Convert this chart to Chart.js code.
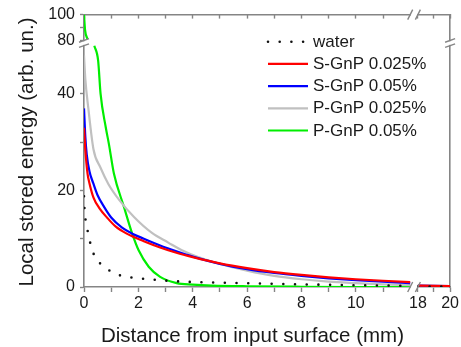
<!DOCTYPE html>
<html lang="en">
<head>
<meta charset="UTF-8" />
<title>Local stored energy vs distance</title>
<script src="https://cdn.jsdelivr.net/npm/chart.js"></script>
<style>
  html, body { margin: 0; padding: 0; background: #fff; }
</style>
</head>
<body>
<canvas id="energyChart" width="461" height="347"></canvas>
<script>
  // distance from input surface (mm) and local stored energy
  // null entries split the curves where the axes are broken
  const waterX = [0, 0.02, 0.06, 0.15, 0.24, 0.39, 0.75, 1.18, 1.59, 2.03, 2.84, 3.5, 5, 7.6, 9, 11, 12, 15, 18, 20];
  const waterY = [18.8, 15.9, 13.8, 11.2, 8.9, 6.4, 4.2, 2.7, 2.1, 1.8, 1.4, 1.15, 0.9, 0.6, 0.45, 0.3, 0.25, null, 0.1, 0.1];

  const sGnp025X = [0, 0.05, 0.13, 0.2, 0.35, 0.57, 0.86, 1.17, 1.59, 2.2, 2.8, 3.4, 4, 5, 6, 7, 8, 9, 10, 11, 12, 15, 18, 20];
  const sGnp025Y = [33, 28.3, 23.5, 21.5, 18.5, 16.3, 14.3, 12.5, 11, 9.5, 8.2, 7.1, 6.2, 4.9, 3.9, 3.1, 2.5, 2.0, 1.6, 1.3, 1.0, null, 0.3, 0.2];

  const sGnp05X = [0, 0.05, 0.1, 0.2, 0.34, 0.5, 0.75, 1.0, 1.4, 1.8, 2.2, 2.8, 3.4, 4, 5, 6, 7, 8, 9, 10, 11, 12, 15, 18, 20];
  const sGnp05Y = [37, 31, 27.5, 24, 21.5, 19, 16.5, 14.4, 12.3, 11, 10, 8.6, 7.4, 6.3, 4.8, 3.7, 2.9, 2.3, 1.8, 1.4, 1.1, 0.8, null, 0.3, 0.2];

  const pGnp025X = [0, 0.05, 0.16, 0.35, 0.6, 0.9, 1.3, 1.84, 2.5, 3.1, 3.6, 4.2, 5, 6, 7, 8, 9, 10, 11, 12, 15, 18, 20];
  const pGnp025Y = [48, 43, 37, 28.5, 24.8, 21.3, 18, 14.5, 11.2, 9.2, 7.6, 6.2, 4.8, 3.4, 2.3, 1.6, 1.1, 0.8, 0.55, 0.4, null, 0.1, 0.1];

  const pGnp05X = [0, 0.04, 0.13, 0.25, 0.38, 0.52, 0.61, 0.8, 0.92, 1.1, 1.47, 1.77, 2.01, 2.38, 2.8, 3.41, 4, 4.7, 6, 8, 10, 12, 15, 18, 20];
  const pGnp05Y = [100, 88, 81, null, 50, 46.9, 40, 33.1, 29.5, 23.5, 16.6, 11.1, 7.6, 4.2, 2.1, 0.8, 0.5, 0.3, 0.15, 0.05, 0, 0, null, 0, 0];

  const seriesLabels = ['water', 'S-GnP 0.025%', 'S-GnP 0.05%', 'P-GnP 0.025%', 'P-GnP 0.05%'];

  // ticks
  const xTicks = [0, 1, 2, 3, 4, 5, 6, 7, 8, 9, 10, 11, 18, 19, 20];
  const xLabels = [0, 2, 4, 6, 8, 10, 18, 20];
  const yTicks = [0, 10, 20, 30, 40, 80, 90, 100];
  const yLabels = [0, 20, 40, 80, 100];

  // broken axes: [from, to, startDecimal, endDecimal]
  const xSegments = [[0, 12, 0, 0.891], [18, 20, 0.912, 1]];
  const ySegments = [[0, 50, 0, 0.886], [80, 100, 0.905, 1]];
  const SEGMENTS = { x: xSegments, xTop: xSegments, y: ySegments, yRight: ySegments };

  const FONT = "'Liberation Sans', Arial, sans-serif";
  const AXIS_COLOR = '#858585';
  const TEXT_COLOR = '#1a1a1a';

  function toDecimal(v, segs) {
    let prev = null;
    for (const s of segs) {
      const [a, b, d0, d1] = s;
      if (v <= b) {
        if (v >= a || !prev) return d0 + (v - a) / (b - a) * (d1 - d0);
        return prev[3] + (v - prev[1]) / (a - prev[1]) * (d0 - prev[3]);
      }
      prev = s;
    }
    const [a, b, d0, d1] = segs[segs.length - 1];
    return d0 + (v - a) / (b - a) * (d1 - d0);
  }

  function fromDecimal(d, segs) {
    for (const [a, b, d0, d1] of segs) {
      if (d <= d1) return a + (d - d0) / (d1 - d0) * (b - a);
    }
    const [a, b, d0, d1] = segs[segs.length - 1];
    return a + (d - d0) / (d1 - d0) * (b - a);
  }

  class BrokenScale extends Chart.LinearScale {
    static id = 'broken';
    static defaults = Chart.LinearScale.defaults;
    getPixelForValue(value) {
      if (value === null || value === undefined || Number.isNaN(value)) return NaN;
      return this.getPixelForDecimal(toDecimal(value, SEGMENTS[this.id]));
    }
    getValueForPixel(pixel) {
      return fromDecimal(this.getDecimalForPixel(pixel), SEGMENTS[this.id]);
    }
  }
  Chart.register(BrokenScale);

  const points = (xs, ys) => xs.map((x, i) => ({ x: x, y: ys[i] }));

  function slash(ctx, x1, y1, x2, y2) {
    ctx.beginPath();
    ctx.moveTo(x1, y1);
    ctx.lineTo(x2, y2);
    ctx.stroke();
  }

  // break marks, legend and axis titles
  const extras = {
    id: 'extras',
    afterDraw(chart) {
      const ctx = chart.ctx;
      const area = chart.chartArea;
      const xs = chart.scales.x, ys = chart.scales.y;
      ctx.save();

      const yLo = ys.getPixelForValue(ySegments[0][1]);
      const yHi = ys.getPixelForValue(ySegments[1][0]);
      const xLo = xs.getPixelForValue(xSegments[0][1]);
      const xHi = xs.getPixelForValue(xSegments[1][0]);

      ctx.fillStyle = '#fff';
      [area.left, area.right].forEach(ax => ctx.fillRect(ax - 2, yHi + 0.8, 4, yLo - yHi - 1.6));
      [area.top, area.bottom].forEach(ay => ctx.fillRect(xLo + 0.8, ay - 2, xHi - xLo - 1.6, 4));

      ctx.strokeStyle = AXIS_COLOR;
      ctx.lineWidth = 1.4;
      [area.left, area.right].forEach(ax => {
        [yHi, yLo].forEach(py => slash(ctx, ax - 5, py + 1.8, ax + 5, py - 1.8));
      });
      [area.top, area.bottom].forEach(ay => {
        [xLo, xHi].forEach(px => slash(ctx, px - 2.5, ay + 5, px + 2.5, ay - 5));
      });

      // legend
      const lx = 268, ly = 41.7, rowH = 22.2;
      chart.data.datasets.forEach((ds, i) => {
        const y = ly + i * rowH;
        ctx.strokeStyle = ds.borderColor;
        ctx.lineWidth = ds.borderWidth;
        ctx.lineCap = ds.borderCapStyle || 'butt';
        ctx.setLineDash(ds.borderDash || []);
        slash(ctx, lx, y, lx + 40, y);
        ctx.setLineDash([]);
        ctx.fillStyle = TEXT_COLOR;
        ctx.font = '17px ' + FONT;
        ctx.textAlign = 'left';
        ctx.textBaseline = 'middle';
        ctx.fillText(ds.label, lx + 45, y + 0.5);
      });

      // axis titles
      ctx.fillStyle = TEXT_COLOR;
      ctx.font = '20.5px ' + FONT;
      ctx.textAlign = 'center';
      ctx.textBaseline = 'alphabetic';
      ctx.fillText('Distance from input surface (mm)', 252.5, 342);
      ctx.translate(33, 152);
      ctx.rotate(-Math.PI / 2);
      ctx.fillText('Local stored energy (arb. un.)', 0, 0);
      ctx.restore();
    }
  };

  const tickFont = { family: FONT, size: 16 };

  new Chart(document.getElementById('energyChart'), {
    type: 'line',
    data: {
      datasets: [
        { label: seriesLabels[0], data: points(waterX, waterY), borderColor: '#111', borderWidth: 2.6,
          borderDash: [0, 11.7], borderCapStyle: 'round' },
        { label: seriesLabels[1], data: points(sGnp025X, sGnp025Y), borderColor: '#ff0000', borderWidth: 2.2 },
        { label: seriesLabels[2], data: points(sGnp05X, sGnp05Y), borderColor: '#0000ff', borderWidth: 2.2 },
        { label: seriesLabels[3], data: points(pGnp025X, pGnp025Y), borderColor: '#c0c0c0', borderWidth: 2.2 },
        { label: seriesLabels[4], data: points(pGnp05X, pGnp05Y), borderColor: '#00ee00', borderWidth: 2.2 }
      ].map(ds => Object.assign({
        xAxisID: 'x', yAxisID: 'y', pointRadius: 0, fill: false,
        cubicInterpolationMode: 'monotone', spanGaps: false
      }, ds))
    },
    options: {
      responsive: false,
      animation: false,
      events: [],
      layout: { padding: { left: 0, right: 8, top: 14, bottom: 0 } },
      plugins: { legend: { display: false }, tooltip: { enabled: false } },
      scales: {
        x: {
          type: 'broken', position: 'bottom', min: 0, max: 20,
          afterBuildTicks: s => { s.ticks = xTicks.map(v => ({ value: v })); },
          afterFit: s => { s.height = 60; },
          grid: { drawOnChartArea: false, tickLength: 5, tickColor: AXIS_COLOR, tickWidth: 1.4 },
          border: { color: AXIS_COLOR, width: 1.6 },
          ticks: { autoSkip: false, maxRotation: 0, padding: 2, color: TEXT_COLOR, font: tickFont,
            callback: v => xLabels.includes(v) ? String(v) : '' }
        },
        xTop: {
          type: 'broken', position: 'top', min: 0, max: 20,
          afterBuildTicks: s => { s.ticks = xTicks.map(v => ({ value: v })); },
          afterFit: s => { s.height = 0; },
          grid: { drawOnChartArea: false, tickLength: -4, tickColor: AXIS_COLOR, tickWidth: 1.4 },
          border: { color: AXIS_COLOR, width: 1.6 },
          ticks: { display: false }
        },
        y: {
          type: 'broken', position: 'left', min: 0, max: 100,
          afterBuildTicks: s => { s.ticks = yTicks.map(v => ({ value: v })); },
          afterFit: s => { s.width = 84; },
          grid: { drawOnChartArea: false, tickLength: 4, tickColor: AXIS_COLOR, tickWidth: 1.4 },
          border: { color: AXIS_COLOR, width: 1.6 },
          ticks: { autoSkip: false, padding: 5, color: TEXT_COLOR, font: tickFont,
            callback: v => yLabels.includes(v) ? String(v) : '' }
        },
        yRight: {
          type: 'broken', position: 'right', min: 0, max: 100,
          afterFit: s => { s.width = 0; },
          grid: { drawOnChartArea: false, drawTicks: false },
          border: { color: AXIS_COLOR, width: 1.6 },
          ticks: { display: false }
        }
      }
    },
    plugins: [extras]
  });
</script>
</body>
</html>
